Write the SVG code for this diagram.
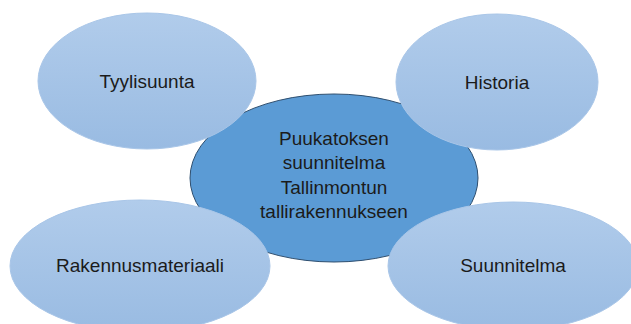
<svg xmlns="http://www.w3.org/2000/svg" width="631" height="324" viewBox="0 0 631 324">
<defs>
<linearGradient id="outerGrad" x1="0" y1="0" x2="0" y2="1">
<stop offset="0" stop-color="#b1cceb"/>
<stop offset="1" stop-color="#99bbe2"/>
</linearGradient>
<style>
.outer{fill:url(#outerGrad);stroke:#a9c6e8;stroke-width:1}
.center{fill:#5b9bd5;stroke:#2f4f6f;stroke-width:1}
.lbl{font-family:"Liberation Sans",Arial,sans-serif;font-size:19px;fill:#1b1b1b;text-anchor:middle}
</style>
</defs>
<rect width="631" height="324" fill="#ffffff"/>
<g id="connectors"></g>
<g id="node-center">
<ellipse class="center" cx="334" cy="178" rx="144" ry="84"/>
<text class="lbl" x="334" y="145">Puukatoksen</text>
<text class="lbl" x="334" y="169">suunnitelma</text>
<text class="lbl" x="334" y="194">Tallinmontun</text>
<text class="lbl" x="334" y="218">tallirakennukseen</text>
</g>
<g id="node-tyylisuunta">
<ellipse class="outer" cx="147" cy="81" rx="109" ry="68"/>
<text class="lbl" x="147" y="88">Tyylisuunta</text>
</g>
<g id="node-historia">
<ellipse class="outer" cx="497" cy="82" rx="101" ry="68"/>
<text class="lbl" x="497" y="89">Historia</text>
</g>
<g id="node-rakennusmateriaali">
<ellipse class="outer" cx="140" cy="266" rx="130" ry="66"/>
<text class="lbl" x="140" y="272">Rakennusmateriaali</text>
</g>
<g id="node-suunnitelma">
<ellipse class="outer" cx="513" cy="266" rx="125" ry="64"/>
<text class="lbl" x="513" y="272">Suunnitelma</text>
</g>
</svg>
